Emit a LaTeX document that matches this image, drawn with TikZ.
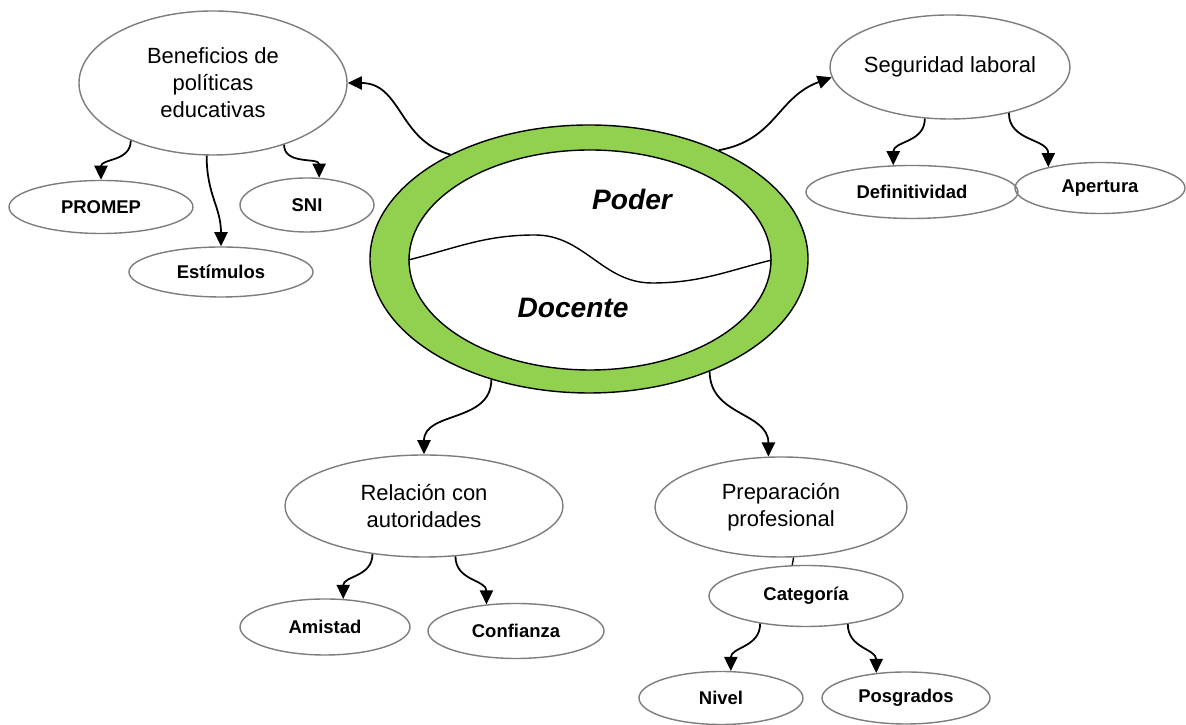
\documentclass[tikz,border=0pt]{standalone}
\usepackage{fontspec}
\setmainfont{Liberation Sans}
\definecolor{RingColor}{RGB}{146,208,80}
\definecolor{BorderColor}{RGB}{125,125,125}
\usepackage{tikz}
\usetikzlibrary{shapes.geometric, arrows.meta}
\tikzstyle{topic} = [ellipse, draw=BorderColor, line width=0.8pt, inner sep=0pt, align=center, font=\fontsize{12.5}{15.3}\selectfont]
\tikzstyle{leaf} = [ellipse, draw=BorderColor, line width=0.8pt, inner sep=0pt, font=\bfseries\fontsize{10.5}{12}\selectfont]
\tikzstyle{link} = [line width=1pt, black, -{Triangle[width=7.5pt,length=8pt]}, out=-90, in=90, looseness=1.1]

\begin{document}
\begin{tikzpicture}
    \useasboundingbox (0,0) rectangle (23.72,14.5);

    % Central ring
    \node[ellipse, draw, thick, fill=RingColor, minimum width=8.76cm, minimum height=5.36cm, inner sep=0pt] (ring) at (11.78,9.32) {};
    \node[ellipse, draw, thick, fill=white, minimum width=7.24cm, minimum height=4.40cm, inner sep=0pt] (core) at (11.80,9.30) {};
    \draw[thick] (core.west) to[out=14,in=180] (10.70,9.80) to[out=0,in=180] (13.04,8.84) to[out=0,in=194] (core.east);
    \node[font=\bfseries\itshape\fontsize{16}{19}\selectfont] (poder) at (12.64,10.52) {Poder};
    \node[font=\bfseries\itshape\fontsize{16}{19}\selectfont] (docente) at (11.46,8.34) {Docente};

    % Main topics
    \node[topic, minimum width=5.36cm, minimum height=2.88cm] (benef) at (4.26,12.84) {Beneficios de\\políticas\\educativas};
    \node[topic, minimum width=4.80cm, minimum height=2.08cm] (seg) at (19.00,13.16) {\makebox[0pt]{Seguridad laboral}};
    \node[topic, minimum width=5.56cm, minimum height=2.04cm] (rel) at (8.48,4.38) {Relación con\\autoridades};
    \node[topic, minimum width=5.04cm, minimum height=2.00cm] (prep) at (15.62,4.36) {Preparación\\profesional};

    % Sub topics
    \node[leaf, minimum width=3.68cm, minimum height=1.06cm] (promep) at (2.02,10.36) {PROMEP};
    \node[leaf, minimum width=2.68cm, minimum height=1.08cm] (sni) at (6.14,10.40) {SNI};
    \node[leaf, minimum width=3.68cm, minimum height=1.00cm] (estim) at (4.42,9.06) {Estímulos};
    \node[leaf, minimum width=4.24cm, minimum height=1.06cm] (def) at (18.24,10.66) {Definitividad};
    \node[leaf, minimum width=3.40cm, minimum height=1.02cm] (apert) at (22.00,10.74) {Apertura};
    \node[leaf, minimum width=3.40cm, minimum height=1.12cm] (amistad) at (6.50,1.96) {Amistad};
    \node[leaf, minimum width=3.52cm, minimum height=1.10cm] (conf) at (10.32,1.88) {Confianza};
    \node[leaf, minimum width=3.88cm, minimum height=1.22cm] (cat) at (16.12,2.58) {Categoría};
    \node[leaf, minimum width=3.28cm, minimum height=1.06cm] (nivel) at (14.42,0.54) {Nivel};
    \node[leaf, minimum width=3.36cm, minimum height=1.04cm] (posg) at (18.12,0.54) {Posgrados};

    % Links from the ring
    \draw[link, out=165, in=0] (ring.143) to (benef.east);
    \draw[link, out=10, in=200] (ring.40) to (seg.185);
    \draw[link] (ring.231) to (rel.north);
    \draw[link] (ring.317) to (prep.104);

    % Links to sub topics
    \draw[link] (benef.215) to (promep.north);
    \draw[link] (benef.265) to (estim.north);
    \draw[link] (benef.319) to (sni.66);
    \draw[link] (seg.244) to (def.125);
    \draw[link] (seg.322) to (apert.158);
    \draw[link] (rel.223) to (amistad.57);
    \draw[link] (rel.302) to (conf.138);
    \draw[line width=0.8pt] (prep.284) -- (cat.114);
    \draw[link] (cat.211) to (nivel.70);
    \draw[link] (cat.326) to (posg.140);
\end{tikzpicture}
\end{document}
